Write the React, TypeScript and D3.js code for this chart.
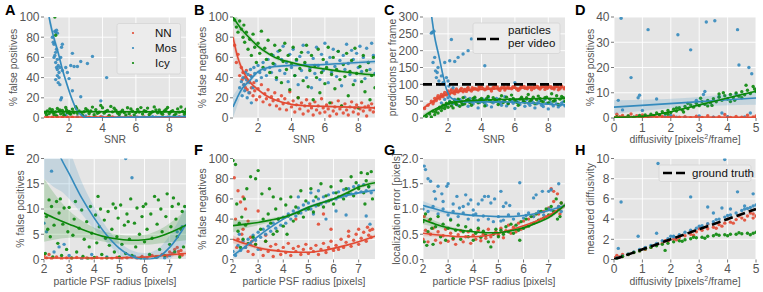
import React from "react";
import * as d3 from "d3";

const RED = "#e24a33";
const BLUE = "#348abd";
const GREEN = "#0a870a";
const FONT = "'Liberation Sans', Arial, sans-serif";

// ---- data ----
// points are flat [x, y, x, y, ...]; fits are rows of [x, y, lo, hi]

const SNR_TICKS = [2, 4, 6, 8];
const PCT_TICKS = [0, 20, 40, 60, 80, 100];
const PRED_TICKS = [0, 50, 100, 150, 200, 250, 300];
const DIFF_TICKS = [0, 1, 2, 3, 4, 5];
const FP_D_TICKS = [0, 10, 20, 30, 40];
const PSF_TICKS = [2, 3, 4, 5, 6, 7];
const FP_E_TICKS = [0, 5, 10, 15, 20];
const LOC_TICKS = [0, 0.5, 1, 1.5, 2];
const MD_TICKS = [0, 2, 4, 6, 8, 10];

const PARTICLES_PER_VIDEO = 100;
const GROUND_TRUTH = [[0, 0], [5, 5]];
const METHODS = ["NN", "Mos", "Icy"];

// A: false positives vs SNR
const A_NN = [0.7,1, 1.0,0.8, 1.3,1.2, 1.6,0.9, 1.9,1.1, 2.2,0.7, 2.5,1.0, 2.9,1.3, 3.2,0.8, 3.6,1.0, 3.9,1.2, 4.3,0.9, 4.6,1.1, 5.0,0.8, 5.4,1.0, 5.7,1.2, 6.1,0.9, 6.5,1.0, 6.8,1.3, 7.2,0.8, 7.6,1.1, 7.9,0.9, 8.3,1.0, 8.6,1.2, 8.9,0.8];
const A_MOS = [1.05,75, 1.1,73, 1.15,86, 1.2,85, 1.25,87, 1.3,84, 1.1,60, 1.2,55, 1.25,50, 1.3,48, 1.35,52, 1.4,45, 1.3,42, 1.2,38, 1.35,35, 1.45,50, 1.5,60, 1.6,73, 1.55,70, 1.2,65, 1.3,58, 1.4,40, 1.5,18, 1.55,20, 1.45,33, 1.6,47, 1.0,80, 1.15,62, 1.25,68, 1.8,50, 2.0,39, 2.2,27, 2.1,52, 2.3,51, 2.2,64, 2.5,51, 2.7,56, 2.7,21, 3.1,54, 3.4,61, 3.9,17, 4.25,40, 1.9,45, 2.5,1, 3,2, 3.5,0.5, 4,1, 4.5,0.3, 5,1.5, 5.5,0.5, 6,1, 6.5,0.4, 7,1.2, 7.5,0.6, 8,1, 8.5,0.5, 9,0.8, 1.8,3, 2,5];
const A_ICY = [0.6,5.2, 0.7,7.1, 0.8,4.3, 0.9,6.0, 1.0,8.2, 1.1,3.5, 1.2,5.9, 1.3,9.4, 1.4,6.8, 1.5,4.1, 1.6,7.5, 1.7,2.8, 1.8,10.5, 1.9,5.3, 2.0,6.6, 2.1,3.9, 2.2,8.8, 2.3,5.1, 2.4,11.2, 2.5,4.6, 2.6,7.0, 2.8,2.9, 2.9,6.2, 3.0,9.1, 3.2,4.4, 3.3,6.9, 3.5,3.2, 3.6,8.3, 3.8,5.7, 3.9,12.5, 4.0,10.1, 4.1,4.8, 4.3,7.4, 4.4,2.6, 4.6,6.1, 4.7,9.6, 4.9,5.0, 5.0,3.7, 5.2,7.8, 5.3,5.5, 5.5,10.2, 5.6,4.2, 5.8,6.7, 5.9,3.1, 6.1,8.5, 6.2,5.9, 6.4,4.0, 6.5,7.2, 6.7,9.8, 6.8,3.4, 7.0,6.3, 7.1,11.0, 7.3,5.2, 7.4,8.0, 7.6,3.8, 7.7,6.9, 7.9,10.4, 8.0,4.5, 8.2,7.3, 8.3,2.7, 8.5,9.0, 8.6,5.8, 8.8,6.4, 8.9,3.6, 9.0,8.7,
  0.65,3.0, 0.85,9.0, 1.05,5.5, 1.25,2.2, 1.45,8.0, 1.65,5.0, 1.85,7.9, 2.05,4.2, 2.25,6.0, 2.45,9.5, 2.75,5.6, 3.1,7.6, 3.4,10.8, 3.7,4.7, 4.2,6.4, 4.5,11.5, 4.8,7.7, 5.1,6.0, 5.4,2.9, 5.7,8.9, 6.0,5.4, 6.3,10.3, 6.6,6.5, 6.9,4.9, 7.2,7.9, 7.5,5.0, 7.8,8.4, 8.1,6.2, 8.4,4.1, 8.7,10.9, 8.95,5.7, 1.2,82, 1.15,100];
const A_NN_FIT = [[0.5,1,0.6,1.4],[9,0.9,0.6,1.2]];
const A_MOS_FIT = [[0.8,100,94,106],[1.0,85,80,90],[1.36,64,60,68],[1.6,48,45,51],[1.86,34,31,37],[2.1,22,19.5,24.5],[2.46,8,6,10],[2.8,2,0.5,3.5],[3.06,0.3,-1,1.5],[4,0.3,-0.7,1.3],[5,0.6,-0.4,1.6],[6,0.9,0,1.8],[7,1.1,0.1,2.1],[9,1.4,-0.2,3]];
const A_ICY_FIT = [[0.5,6.3,5.5,7.1],[9,6.1,5.5,6.7]];

// B: false negatives vs SNR
const B_NN = [0.6,72, 0.7,55, 0.8,63, 0.9,42, 1.0,50, 1.05,38, 1.1,45, 1.15,33, 1.2,40, 1.25,30, 1.3,47, 1.35,28, 1.4,36, 1.5,25, 1.55,42, 1.6,30, 1.7,22, 1.75,35, 1.8,27, 1.9,18, 2.0,29, 2.1,21, 2.2,33, 2.3,16, 2.4,24, 2.5,19, 2.6,28, 2.7,13, 2.8,21, 2.9,17, 3.0,25, 3.1,12, 3.2,18, 3.3,9, 3.4,22, 3.5,14, 3.6,19, 3.7,8, 3.8,15, 3.9,26, 4.0,11, 4.1,17, 4.2,6, 4.3,13, 4.4,20, 4.5,9, 4.6,15, 4.7,4, 4.8,12, 4.9,18, 5.0,7, 5.1,14, 5.2,10, 5.3,3, 5.4,16, 5.5,8, 5.6,12, 5.7,5, 5.8,19, 5.9,10, 6.0,6, 6.1,13, 6.2,9, 6.3,2, 6.4,15, 6.5,7, 6.6,11, 6.7,4, 6.8,17, 6.9,9, 7.0,12, 7.1,5, 7.2,14, 7.3,8, 7.4,3, 7.5,11, 7.6,16, 7.7,6, 7.8,10, 7.9,13, 8.0,4, 8.1,9, 8.2,15, 8.3,7, 8.4,11, 8.5,2, 8.6,12, 8.7,8, 8.8,14, 8.9,6, 9.0,10];
const B_MOS = [0.9,30, 1.0,36, 1.05,22, 1.1,40, 1.15,33, 1.2,27, 1.25,45, 1.3,38, 1.35,20, 1.4,43, 1.5,35, 1.55,48, 1.6,41, 1.7,30, 1.75,50, 1.8,44, 1.9,37, 2.0,52, 2.1,45, 2.2,40, 2.3,55, 2.4,48, 2.5,42, 2.6,58, 2.7,50, 2.8,45, 2.9,62, 3.0,53, 3.1,38, 3.2,66, 3.3,47, 3.4,58, 3.5,71, 3.6,44, 3.7,55, 3.8,36, 3.9,63, 4.0,50, 4.1,68, 4.2,42, 4.3,57, 4.4,33, 4.5,61, 4.6,47, 4.7,72, 4.8,53, 4.9,40, 5.0,65, 5.1,49, 5.2,30, 5.3,59, 5.4,44, 5.5,70, 5.6,52, 5.7,38, 5.8,63, 5.9,47, 6.0,74, 6.1,55, 6.2,35, 6.3,60, 6.4,45, 6.5,68, 6.6,51, 6.7,41, 6.8,66, 6.9,57, 7.0,32, 7.1,62, 7.2,48, 7.3,73, 7.4,54, 7.5,43, 7.6,67, 7.7,58, 7.8,37, 7.9,64, 8.0,50, 8.1,71, 8.2,46, 8.3,60, 8.4,39, 8.5,69, 8.6,55, 8.7,48, 8.8,74, 8.9,62, 9.0,44, 1.6,15, 1.45,25];
const B_ICY = [0.6,97, 0.7,90, 0.8,85, 0.9,96, 1.0,88, 1.1,80, 1.15,92, 1.2,75, 1.3,85, 1.4,68, 1.5,78, 1.6,62, 1.7,83, 1.8,70, 1.9,55, 2.0,74, 2.1,64, 2.2,86, 2.3,50, 2.4,69, 2.5,58, 2.6,77, 2.7,45, 2.8,63, 2.9,54, 3.0,72, 3.1,40, 3.2,60, 3.3,67, 3.4,35, 3.5,56, 3.6,74, 3.7,48, 3.8,62, 3.9,28, 4.0,53, 4.1,70, 4.2,42, 4.3,58, 4.4,20, 4.5,49, 4.6,65, 4.7,37, 4.8,55, 4.9,72, 5.0,31, 5.1,47, 5.2,62, 5.3,18, 5.4,52, 5.5,40, 5.6,68, 5.7,25, 5.8,45, 5.9,58, 6.0,34, 6.1,50, 6.2,70, 6.3,15, 6.4,43, 6.5,60, 6.6,29, 6.7,48, 6.8,66, 6.9,38, 7.0,12, 7.1,53, 7.2,41, 7.3,64, 7.4,22, 7.5,46, 7.6,57, 7.7,33, 7.8,69, 7.9,44, 8.0,10, 8.1,51, 8.2,36, 8.3,62, 8.4,26, 8.5,47, 8.6,55, 8.7,18, 8.8,42, 8.9,60, 9.0,30];
const B_NN_FIT = [[0.5,80,70,90],[0.75,62,56,68],[1,50,46,54],[1.25,42,39,45],[1.5,36,34,38],[2,28,26.5,29.5],[2.5,22,20.8,23.2],[3,18,17,19],[4,13.5,12.7,14.3],[5,12,11.2,12.8],[6,11.5,10.7,12.3],[7,11,10.2,11.8],[8,10.5,9.5,11.5],[9,10,8.8,11.2]];
const B_MOS_FIT = [[0.5,11,0,22],[0.75,20,12,28],[1,28,23,33],[1.25,33,29.5,36.5],[1.5,37,34.5,39.5],[2,46,44,48],[2.5,49.5,47.8,51.2],[3,51,49.5,52.5],[4,52,50.5,53.5],[5,52.5,51,54],[6,53,51.5,54.5],[7,54,52.5,55.5],[8,55,53,57],[9,56,53.5,58.5]];
const B_ICY_FIT = [[0.5,100,92,108],[1,88,84,92],[1.5,79,76,82],[2,71,68.5,73.5],[2.5,65,63,67],[3,60,58.2,61.8],[4,55,53.5,56.5],[5,51,49.5,52.5],[6,48.5,47,50],[7,46,44.5,47.5],[8,44,42,46],[9,42.5,40,45]];

// C: predictions per frame vs SNR
const C_NN = [0.6,28, 0.8,38, 1.0,50, 1.1,42, 1.2,58, 1.3,52, 1.4,66, 1.5,57, 1.6,70, 1.7,63, 1.8,76, 1.9,68, 2.0,80, 2.1,71, 2.2,84, 2.3,75, 2.4,72, 2.5,86, 2.6,77, 2.7,82, 2.8,88, 2.9,78, 3.0,85, 3.2,91, 3.4,80, 3.6,88, 3.8,83, 4.0,93, 4.2,84, 4.4,89, 4.6,80, 4.8,94, 5.0,86, 5.2,90, 5.4,83, 5.6,95, 5.8,87, 6.0,91, 6.2,82, 6.4,96, 6.6,88, 6.8,92, 7.0,84, 7.2,97, 7.4,89, 7.6,93, 7.8,85, 8.0,96, 8.2,88, 8.4,92, 8.6,84, 8.8,95, 9.0,90, 2.45,79, 3.1,79, 3.5,86, 3.9,90, 4.3,87, 4.7,91, 5.1,82, 5.5,89, 5.9,93, 6.3,86, 6.7,89, 7.1,91, 7.5,86, 7.9,92, 8.3,89, 8.7,87,
  1.15,48, 1.35,60, 1.55,64, 1.75,70, 1.95,74, 2.15,78, 2.35,81, 2.55,80, 2.75,85, 2.95,83, 3.15,87, 3.3,84, 3.45,90, 3.7,86, 3.85,92, 4.1,88, 4.35,92, 4.55,86, 4.75,88, 4.95,92, 5.15,88, 5.35,93, 5.65,88, 5.85,90, 6.1,86, 6.35,91, 6.55,94, 6.75,87, 6.95,92, 7.15,88, 7.35,94, 7.55,90, 7.75,94, 7.95,88, 8.15,93, 8.35,86, 8.55,95, 8.75,91, 8.95,87];
const C_MOS = [1.0,252, 1.05,255, 1.15,258, 1.1,165, 1.2,180, 1.25,140, 1.3,120, 1.35,135, 1.4,150, 1.45,110, 1.5,100, 1.6,125, 1.7,105, 1.8,165, 1.9,120, 2.0,110, 2.05,95, 2.1,170, 2.2,233, 2.4,168, 2.6,180, 2.9,190, 3.2,200, 3.4,235, 4.2,155, 6.0,105, 2.3,90, 2.0,60, 2.2,45, 2.4,55, 2.6,38, 2.8,50, 3.0,62, 3.2,35, 3.4,48, 3.6,57, 3.8,30, 4.0,52, 4.2,44, 4.4,60, 4.6,33, 4.8,49, 5.0,55, 5.2,38, 5.4,63, 5.6,42, 5.8,50, 6.0,28, 6.2,47, 6.4,58, 6.6,35, 6.8,44, 7.0,52, 7.2,30, 7.4,46, 7.6,38, 7.8,55, 8.0,27, 8.2,42, 8.4,50, 8.6,33, 8.8,45, 9.0,36, 1.6,45, 1.8,55, 1.9,40,
  2.1,50, 2.3,42, 2.5,48, 2.7,55, 2.9,40, 3.1,50, 3.3,58, 3.5,42, 3.7,50, 3.9,46, 4.1,56, 4.3,38, 4.5,50, 4.7,45, 4.9,58, 5.1,44, 5.3,50, 5.5,36, 5.7,54, 5.9,44, 6.1,52, 6.3,40, 6.5,48, 6.7,55, 6.9,38, 7.1,46, 7.3,42, 7.5,52, 7.7,34, 7.9,44, 8.1,48, 8.3,36, 8.5,42, 8.7,38, 8.9,48];
const C_ICY = [0.7,5, 0.9,12, 1.0,3, 1.1,20, 1.2,10, 1.3,25, 1.4,15, 1.5,32, 1.6,22, 1.7,38, 1.8,28, 1.9,44, 2.0,32, 2.1,48, 2.2,36, 2.3,30, 2.4,52, 2.5,40, 2.6,56, 2.7,35, 2.8,47, 2.9,60, 3.0,42, 3.2,55, 3.4,38, 3.6,62, 3.8,45, 4.0,58, 4.2,36, 4.4,64, 4.6,48, 4.8,55, 5.0,40, 5.2,66, 5.4,50, 5.6,43, 5.8,68, 6.0,52, 6.2,38, 6.4,62, 6.6,47, 6.8,70, 7.0,55, 7.2,42, 7.4,65, 7.6,50, 7.8,60, 8.0,45, 8.2,72, 8.4,53, 8.6,40, 8.8,64, 9.0,50,
  1.25,18, 1.45,28, 1.65,30, 1.85,36, 2.05,42, 2.25,46, 2.45,44, 2.65,50, 2.85,40, 3.1,52, 3.3,46, 3.5,58, 3.7,50, 3.9,54, 4.1,48, 4.3,57, 4.5,52, 4.7,60, 4.9,50, 5.1,56, 5.3,46, 5.5,62, 5.7,54, 5.9,58, 6.1,47, 6.3,56, 6.5,52, 6.7,60, 6.9,50, 7.1,62, 7.3,54, 7.5,58, 7.7,48, 7.9,62, 8.1,56, 8.3,50, 8.5,66, 8.7,56, 8.9,60];
const C_NN_FIT = [[0.5,28,22,34],[1,46,42,50],[1.5,61,58.5,63.5],[2,71,69,73],[2.5,77,75.5,78.5],[3,81,79.8,82.2],[4,85,84,86],[5,87,86,88],[6,88.5,87.5,89.5],[7,89.5,88.5,90.5],[8,90.5,89.3,91.7],[9,91,89.5,92.5]];
const C_MOS_FIT = [[1.02,300,280,320],[1.2,240,225,255],[1.42,191,180,202],[1.72,122,114,130],[1.92,83,77,89],[2.22,58,54,62],[2.6,51,48,54],[3,48,45.5,50.5],[4,48,46,50],[5,48,46,50],[6,47,45,49],[7,44,42,46],[8,41,38.5,43.5],[9,39,36,42]];
const C_ICY_FIT = [[0.5,4,-4,12],[1,20,15,25],[1.5,33,30,36],[2,43,41,45],[2.5,48,46.5,49.5],[3,51,49.7,52.3],[4,53,51.8,54.2],[5,55,53.8,56.2],[6,56,54.8,57.2],[7,57,55.7,58.3],[8,58,56.5,59.5],[9,58,56,60]];

// D: false positives vs diffusivity
const D_NN = [0.1,1.5, 0.2,0.5, 0.3,1.0, 0.4,0.2, 0.5,0.8, 0.6,1.6, 0.7,0.3, 0.8,0.9, 0.9,0.1, 1.0,1.2, 1.1,0.4, 1.2,0.7, 1.3,0.2, 1.4,1.0, 1.5,0.3, 1.7,0.6, 1.9,0.2, 2.1,0.8, 2.3,0.3, 2.5,0.5, 2.7,0.1, 2.9,0.7, 3.1,0.2, 3.3,0.9, 3.5,0.3, 3.7,0.5, 3.9,1.4, 4.1,0.2, 4.3,0.6, 4.5,0.3, 4.7,1.1, 4.9,0.4, 5.0,0.8, 4.0,0.4, 2.0,0.5, 1.6,1.3];
const D_MOS = [0.25,39.5, 1.2,35, 2.25,33, 2.7,27, 3.25,38, 3.55,38.5, 4.35,35, 4.4,21, 4.75,20, 4.85,17.5, 0.6,16, 0.9,9, 0.85,8, 0.15,7, 1.5,7.5, 3.2,10.5, 3.15,9.3, 0.3,3.2, 1.0,3, 4.3,9.5, 3.7,8.5, 2.9,7, 4.8,2, 3.8,2, 2.0,1, 0.5,0.5, 1.3,0.3, 2.5,0.2, 3.0,0.8, 3.5,0.3, 4.0,0.5, 4.6,0.4, 1.8,0.6, 2.2,0.3];
const D_ICY = [0.1,0.5, 0.3,0.2, 0.5,0.8, 0.7,0.3, 0.9,1.0, 1.0,0.4, 1.1,1.2, 1.2,0.6, 1.3,1.5, 1.4,0.9, 1.5,2.0, 1.6,1.3, 1.7,2.5, 1.8,1.8, 1.9,3.0, 2.0,2.2, 2.1,3.5, 2.2,2.8, 2.3,4.1, 2.4,3.2, 2.5,4.6, 2.6,3.7, 2.7,5.2, 2.8,4.3, 2.9,5.8, 3.0,4.9, 3.1,6.5, 3.2,5.4, 3.3,7.0, 3.4,6.0, 3.5,7.6, 3.6,6.4, 3.7,8.2, 3.8,7.0, 3.9,8.8, 4.0,7.5, 4.1,9.3, 4.2,8.1, 4.3,9.9, 4.4,8.6, 4.5,10.4, 4.6,9.2, 4.7,11.0, 4.8,9.7, 4.9,12.5, 5.0,10.5, 2.2,4.0, 2.6,5.8, 3.05,7.8, 3.45,5.0, 3.85,10.0, 4.25,7.0, 4.65,13.0, 4.95,11.5, 1.9,1.5, 2.45,2.4, 3.3,4.8, 4.1,6.5, 4.5,8.0, 3.7,9.5];
const D_NN_FIT = [[0,0.5,0.2,0.8],[5,0.3,0,0.6]];
const D_MOS_FIT = [[0,4.3,1.6,7.0],[2.5,6.1,4.3,7.9],[5,7.9,5.2,10.6]];
const D_ICY_FIT = [[0,0.3,-0.2,0.8],[1,0.6,0.3,0.9],[2,2.5,2.2,2.8],[3,5.2,4.9,5.5],[4,7.9,7.6,8.2],[5,10.6,10.1,11.1]];

// E: false positives vs PSF radius
const E_NN = [2.0,0.8, 2.1,0.3, 2.2,1.0, 2.3,0.2, 2.5,0.5, 2.7,0.1, 2.9,0.3, 3.1,0.2, 3.3,0.4, 3.5,0.1, 3.7,0.3, 3.9,0.2, 4.1,0.4, 4.3,0.1, 4.5,0.3, 4.7,0.2, 4.9,0.4, 5.1,0.1, 5.3,0.3, 5.5,0.5, 5.7,0.2, 5.9,0.6, 6.1,0.3, 6.3,0.8, 6.5,0.5, 6.7,1.0, 6.9,0.7, 7.0,1.5, 7.1,1.2, 7.2,2.0, 7.3,2.4, 7.35,1.6, 7.4,1.0, 7.45,1.8, 7.5,0.9];
const E_MOS = [2.3,17.5, 5.25,20, 5.5,16.2, 2.0,7.2, 2.1,5.5, 2.6,2.5, 2.4,1.5, 3.0,0.8, 4.5,0.5, 5.0,0.3, 6.0,0.2, 6.5,0.5, 7.0,0.8, 7.5,6.5, 7.3,5.5, 3.9,1, 2.8,3, 3.5,0.2, 5.6,0.6, 6.8,0.3];
const E_ICY = [2.05,1.2, 2.1,8.5, 2.2,11.8, 2.25,4.5, 2.3,10.5, 2.35,0.5, 2.4,6.8, 2.5,11.5, 2.55,3.2, 2.6,9.2, 2.7,0.8, 2.75,7.0, 2.8,10.2, 2.9,2.0, 2.95,5.5, 3.0,10.3, 3.1,0.3, 3.15,4.8, 3.2,8.0, 3.3,1.5, 3.4,6.2, 3.5,9.8, 3.55,0.6, 3.6,4.0, 3.7,7.5, 3.8,2.5, 3.85,10.5, 3.9,5.2, 4.0,0.4, 4.05,8.8, 4.1,3.3, 4.2,6.5, 4.25,10.0, 4.3,1.0, 4.4,7.8, 4.45,4.2, 4.5,0.3, 4.55,9.5, 4.6,2.8, 4.7,6.0, 4.75,11.0, 4.8,1.5, 4.9,4.5, 4.95,8.2, 5.0,0.5, 5.05,10.8, 5.1,3.0, 5.2,6.8, 5.25,1.2, 5.3,9.0, 5.4,4.0, 5.45,12.0, 5.5,0.8, 5.6,7.2, 5.65,2.5, 5.7,10.2, 5.8,5.0, 5.85,0.3, 5.9,8.5, 6.0,3.5, 6.05,11.0, 6.1,6.0, 6.2,1.0, 6.25,9.0, 6.3,4.2, 6.4,12.5, 6.45,0.5, 6.5,7.0, 6.6,2.0, 6.65,10.0, 6.7,5.5, 6.8,0.8, 6.85,8.5, 6.9,13.0, 7.0,3.0, 7.05,6.5, 7.1,10.5, 7.2,1.5, 7.25,8.0, 7.3,4.5, 7.35,11.0, 7.4,0.5, 7.45,6.0, 7.5,9.5, 7.55,2.5, 7.6,10.5, 2.15,6.0, 2.65,12.0, 3.25,11.5, 3.75,0.2, 4.15,12.5, 4.85,10.2, 5.35,7.5, 5.95,10.5, 6.55,11.8, 7.15,12.2];
const E_NN_FIT = [[2,0.3,0,0.6],[4,0.3,0.1,0.5],[5,0.35,0.15,0.55],[6,0.5,0.25,0.75],[6.5,0.7,0.4,1.0],[7,0.95,0.6,1.3],[7.65,1.2,0.7,1.7]];
const E_MOS_FIT = [[2,29,16,42],[2.5,22,14,30],[2.68,20,13.5,26.5],[3,17,12,22],[3.5,12.2,9,15.4],[4,8.2,6,10.4],[4.5,4.8,3.3,6.3],[5,2.2,1,3.4],[5.5,0.6,-0.6,1.8],[6,0,-1.3,1.3],[6.5,0.4,-1.2,2],[7,2.4,0,4.8],[7.5,5.8,2.5,9.1],[7.65,7,3.2,10.8]];
const E_ICY_FIT = [[2,9.2,3.5,16],[2.5,8,4,12.5],[3,7,4.3,9.7],[3.5,6,4.3,7.7],[4,5.1,3.9,6.3],[4.5,4.4,3.4,5.4],[5,4,3.1,4.9],[5.5,3.8,2.9,4.7],[6,3.9,2.9,4.9],[6.5,4.4,3.1,5.7],[7,5.3,3.4,7.2],[7.65,6.8,3.8,9.8]];

// F: false negatives vs PSF radius
const F_NN = [2.05,81, 2.1,40, 2.2,68, 2.3,57, 2.4,30, 2.5,12, 2.6,8, 2.7,22, 2.8,5, 2.9,15, 3.0,48, 3.1,10, 3.2,4, 3.3,18, 3.4,8, 3.5,13, 3.6,3, 3.7,15, 3.8,9, 3.9,5, 4.0,12, 4.1,7, 4.2,16, 4.3,4, 4.4,11, 4.5,8, 4.6,13, 4.7,5, 4.8,10, 4.9,15, 5.0,6, 5.1,11, 5.2,8, 5.3,14, 5.4,5, 5.5,10, 5.6,16, 5.7,7, 5.8,12, 5.9,18, 6.0,9, 6.1,14, 6.2,10, 6.3,20, 6.4,12, 6.5,17, 6.6,23, 6.7,13, 6.8,19, 6.9,25, 7.0,15, 7.1,21, 7.2,27, 7.3,18, 7.35,32, 7.4,24, 7.45,29, 7.5,22, 7.55,30, 5.6,45, 5.4,35, 4.5,40, 2.4,62, 2.6,38, 2.2,20, 2.15,12, 2.35,25, 2.75,18, 5.9,30, 6.6,28, 7.0,30, 3.3,24, 2.5,50];
const F_MOS = [2.0,8, 2.1,4, 2.2,14, 2.3,9, 2.4,18, 2.5,12, 2.6,20, 2.7,15, 2.8,24, 2.9,19, 3.0,27, 3.1,22, 3.2,30, 3.3,25, 3.4,33, 3.5,28, 3.6,36, 3.7,31, 3.8,40, 3.9,34, 4.0,42, 4.1,36, 4.2,45, 4.3,40, 4.4,48, 4.5,43, 4.6,51, 4.7,46, 4.8,54, 4.9,49, 5.0,56, 5.1,50, 5.2,58, 5.3,53, 5.4,60, 5.5,55, 5.6,62, 5.7,57, 5.8,64, 5.9,59, 6.0,66, 6.1,60, 6.2,67, 6.3,62, 6.4,69, 6.5,63, 6.6,70, 6.7,65, 6.8,72, 6.9,66, 7.0,73, 7.1,67, 7.2,74, 7.3,68, 7.4,72, 7.5,66, 5.7,40, 6.1,48, 5.2,45, 6.5,44, 7.3,43, 7.45,35, 4.6,62, 5.1,66, 5.4,68, 3.0,10, 2.25,25];
const F_ICY = [2.0,98, 2.1,94, 2.2,28, 2.3,12, 2.4,20, 2.5,34, 2.6,16, 2.7,82, 2.8,22, 2.9,80, 3.0,88, 3.1,30, 3.2,40, 3.3,18, 3.4,45, 3.5,36, 3.6,25, 3.7,50, 3.8,40, 3.9,60, 4.0,33, 4.1,54, 4.2,43, 4.3,62, 4.4,38, 4.5,52, 4.6,46, 4.7,68, 4.8,42, 4.9,58, 5.0,50, 5.1,70, 5.2,47, 5.3,62, 5.4,54, 5.5,75, 5.6,52, 5.7,63, 5.8,58, 5.9,72, 6.0,55, 6.1,66, 6.2,62, 6.3,78, 6.4,60, 6.5,70, 6.6,65, 6.7,82, 6.8,63, 6.9,76, 7.0,70, 7.1,86, 7.2,66, 7.3,78, 7.4,72, 7.5,87, 7.55,60, 2.15,55, 2.35,42, 2.55,70, 2.45,60, 3.15,65, 3.45,70, 3.75,28, 4.15,25, 2.25,36, 3.6,62, 2.9,15, 7.35,85, 7.25,55];
const F_NN_FIT = [[2,20,16,24],[2.5,15.5,13,18],[3,11.7,10,13.4],[3.5,9.3,8,10.6],[4,8,7,9],[4.5,7.2,6.3,8.1],[5,7.2,6.3,8.1],[5.5,8.5,7.6,9.4],[6,11,10,12],[6.5,14,13,15],[7,17.5,16.2,18.8],[7.65,23,21,25]];
const F_MOS_FIT = [[2,4,1,7],[2.5,13,11,15],[3,23,21.5,24.5],[3.5,32,30.8,33.2],[4,40,39,41],[4.5,46.5,45.5,47.5],[5,51.7,50.7,52.7],[5.5,56,55,57],[6,60,59,61],[6.5,63.5,62.4,64.6],[7,66,64.8,67.2],[7.65,68.5,66.5,70.5]];
const F_ICY_FIT = [[2,33.5,27,40],[2.5,35,31,39],[3,36.7,34,39.4],[3.5,39,37,41],[4,41.7,40,43.4],[4.5,46,44.5,47.5],[5,51.7,50.2,53.2],[5.5,56,54.5,57.5],[6,60,58.5,61.5],[6.5,65.5,64,67],[7,71.7,70,73.4],[7.65,76,73.5,78.5]];

// G: localization error vs PSF radius
const G_NN = [2.0,0.40, 2.1,0.58, 2.2,0.35, 2.3,0.50, 2.4,0.62, 2.5,0.38, 2.6,0.55, 2.7,0.33, 2.8,0.47, 2.9,0.60, 3.0,0.36, 3.1,0.52, 3.2,0.40, 3.3,0.30, 3.4,0.49, 3.5,0.57, 3.6,0.35, 3.7,0.45, 3.8,0.55, 3.9,0.32, 4.0,0.48, 4.1,0.40, 4.2,0.58, 4.3,0.37, 4.4,0.50, 4.5,0.42, 4.6,0.60, 4.7,0.45, 4.8,0.35, 4.9,0.55, 5.0,0.48, 5.1,0.62, 5.2,0.43, 5.3,0.57, 5.4,0.68, 5.5,0.52, 5.6,0.64, 5.7,0.55, 5.8,0.72, 5.9,0.60, 6.0,0.76, 6.1,0.65, 6.2,0.80, 6.3,0.70, 6.4,0.85, 6.5,0.74, 6.6,0.90, 6.7,0.80, 6.8,0.95, 6.9,0.85, 7.0,1.02, 7.1,0.88, 7.2,1.15, 7.3,0.95, 7.35,1.30, 7.4,1.05, 7.45,0.90, 7.5,1.12, 7.1,1.40, 7.2,1.35, 2.05,0.85, 2.25,0.78];
const G_MOS = [2.05,1.85, 2.1,1.78, 2.2,1.60, 2.3,1.55, 2.45,1.35, 2.5,1.20, 2.6,1.45, 2.75,1.30, 2.8,1.15, 2.95,1.45, 3.0,1.50, 3.2,1.10, 3.35,1.25, 3.45,1.02, 3.6,1.05, 3.7,1.28, 3.8,1.10, 3.9,1.18, 4.0,0.98, 4.2,1.10, 4.35,1.18, 4.45,1.25, 4.6,1.25, 4.7,1.12, 4.85,1.20, 5.1,1.35, 5.2,1.05, 5.3,1.12, 5.45,1.07, 5.85,1.52, 6.4,1.22, 6.5,1.28, 6.75,1.35, 7.0,1.35, 7.1,1.38, 7.4,1.50, 2.0,1.00, 2.2,0.95, 2.4,1.05, 2.6,0.90, 2.8,1.00, 3.0,0.88, 3.2,0.95, 3.4,0.85, 3.6,0.92, 3.8,0.80, 4.0,0.88, 4.2,0.78, 4.4,0.86, 4.6,0.80, 4.8,0.75, 5.0,0.85, 5.2,0.78, 5.4,0.88, 5.6,0.80, 5.8,0.90, 6.0,0.82, 6.2,0.92, 6.4,0.85, 6.6,0.95, 6.8,0.88, 7.0,1.00, 7.2,0.92, 7.4,1.05, 7.5,0.95, 3.1,0.80, 4.1,0.90, 5.1,0.76, 6.1,0.87, 7.1,0.98];
const G_ICY = [2.0,0.75, 2.05,0.35, 2.1,0.90, 2.2,0.55, 2.3,0.80, 2.4,0.30, 2.5,0.65, 2.6,0.85, 2.7,0.45, 2.8,0.70, 2.9,0.38, 3.0,0.62, 3.1,0.78, 3.2,0.42, 3.3,0.58, 3.4,0.68, 3.5,0.40, 3.6,0.55, 3.7,0.65, 3.8,0.45, 3.9,0.58, 4.0,0.38, 4.1,0.52, 4.2,0.62, 4.3,0.44, 4.4,0.56, 4.5,0.48, 4.6,0.35, 4.7,0.25, 4.8,0.50, 4.9,0.60, 5.0,0.45, 5.1,0.58, 5.2,0.50, 5.3,0.65, 5.4,0.55, 5.5,0.70, 5.6,0.52, 5.7,0.68, 5.8,0.58, 5.85,0.38, 5.9,0.75, 6.0,0.62, 6.1,0.80, 6.2,0.66, 6.3,0.85, 6.4,0.72, 6.5,0.90, 6.6,0.78, 6.7,0.95, 6.8,0.82, 6.9,1.00, 7.0,0.88, 7.1,1.05, 7.2,0.95, 7.3,1.20, 7.4,1.00, 7.5,1.12, 7.45,0.85, 7.35,0.80, 2.15,0.28, 2.35,0.62];
const G_NN_FIT = [[2,0.52,0.46,0.58],[2.5,0.49,0.45,0.53],[3,0.47,0.44,0.5],[3.5,0.45,0.43,0.47],[4,0.45,0.43,0.47],[4.5,0.47,0.45,0.49],[5,0.52,0.5,0.54],[5.5,0.59,0.57,0.61],[6,0.67,0.65,0.69],[6.5,0.76,0.74,0.78],[7,0.87,0.84,0.9],[7.65,1.07,1.02,1.12]];
const G_MOS_FIT = [[2,1.07,0.98,1.16],[2.5,1.0,0.94,1.06],[3,0.93,0.89,0.97],[3.5,0.9,0.87,0.93],[4,0.87,0.85,0.89],[4.5,0.86,0.84,0.88],[5,0.85,0.83,0.87],[5.5,0.85,0.83,0.87],[6,0.87,0.85,0.89],[6.5,0.91,0.89,0.93],[7,0.97,0.94,1.0],[7.65,1.07,1.02,1.12]];
const G_ICY_FIT = [[2,0.79,0.7,0.88],[2.5,0.7,0.64,0.76],[3,0.63,0.59,0.67],[3.5,0.58,0.55,0.61],[4,0.55,0.53,0.57],[4.5,0.53,0.51,0.55],[5,0.53,0.51,0.55],[5.5,0.57,0.55,0.59],[6,0.63,0.61,0.65],[6.5,0.72,0.7,0.74],[7,0.83,0.8,0.86],[7.65,1.08,1.03,1.13]];

// H: measured vs true diffusivity
const H_NN = [0.05,0.2, 0.1,0.4, 0.2,0.25, 0.3,0.3, 0.5,0.5, 0.7,0.7, 0.9,0.85, 1.1,1.0, 1.3,1.2, 1.5,1.45, 1.7,1.6, 1.9,1.8, 2.1,2.0, 2.3,2.15, 2.5,2.35, 2.7,2.5, 2.9,2.75, 3.1,2.9, 3.3,3.05, 3.5,3.2, 3.7,3.45, 3.9,3.6, 4.1,3.7, 4.3,3.95, 4.5,4.1, 4.7,4.3, 4.9,4.5, 5.0,4.3, 3.3,3.5, 3.6,3.1, 4.0,4.0, 4.2,3.6, 4.4,4.3, 4.6,3.9, 4.8,4.6, 4.9,4.1, 2.8,2.4, 3.0,3.05, 0.3,0.5, 1.8,1.85, 2.2,1.95, 3.8,3.3];
const H_MOS = [0.1,0.15, 0.3,0.35, 0.5,0.55, 0.7,0.75, 0.9,1.0, 1.1,1.2, 1.3,1.4, 1.5,1.6, 1.7,1.85, 1.9,2.05, 2.1,2.25, 2.3,2.45, 2.5,2.7, 2.7,2.9, 2.9,3.1, 3.1,3.35, 3.3,3.55, 3.5,3.75, 3.7,4.0, 3.9,4.2, 4.1,4.4, 4.3,4.6, 4.5,4.85, 4.7,5.05, 4.9,5.3, 5.0,5.4, 2.0,2.3, 3.0,3.3, 4.0,4.35, 4.6,5.0, 4.8,5.15, 3.6,3.95, 0.25,5.7, 1.55,9.5, 3.9,9.9, 2.7,6.2, 4.35,6.7, 4.9,6.5, 3.3,5.2, 3.8,5.1, 0.85,2.3, 0.15,1.1, 1.5,2.6, 2.1,2.3, 4.1,5.0, 4.6,5.3, 3.5,4.6];
const H_ICY = [0.1,0.1, 0.3,0.3, 0.5,0.5, 0.7,0.7, 0.9,0.85, 1.1,1.05, 1.3,1.2, 1.5,1.35, 1.7,1.5, 1.8,0.9, 1.9,1.6, 2.1,1.75, 2.3,1.85, 2.5,1.95, 2.7,2.05, 2.9,2.15, 3.1,2.2, 3.3,2.3, 3.5,2.35, 3.7,2.4, 3.9,2.45, 4.1,2.5, 4.3,2.5, 4.5,2.55, 4.7,2.6, 4.9,2.6, 5.0,2.7, 4.0,2.35, 4.4,2.65, 4.8,2.45, 3.6,2.5, 3.2,2.1, 2.8,2.2, 2.4,1.8];

// ---- layout ----
const COLS = [44, 233, 423, 614];
const ROWS = [17, 158.5];
const PW = 142;
const PH = 101;
const TICK_FS = 12;
const TITLE_FS = 10.4;

const pairs = (a: number[]) => d3.range(0, a.length - 1, 2).map((i) => [a[i], a[i + 1]]);
const textW = (s: string, fs: number) =>
  d3.sum(s.split(""), (c) => (c === "." ? 0.278 : 0.556)) * fs;

type Series = { color: string; pts: number[]; fit?: number[][] };
type PanelCfg = {
  id: string; col: number; row: number;
  xDomain: number[]; yDomain: number[];
  xTicks: number[]; yTicks: number[]; yFormat?: string;
  xLabel: React.ReactNode; yLabel: string;
  series: Series[]; extra?: "ppv" | "gt";
};

const diffLabel = (
  <>
    diffusivity [pixels<tspan fontSize={7} dy={-4}>2</tspan>
    <tspan dy={4}>/frame]</tspan>
  </>
);

const PANELS: PanelCfg[] = [
  { id: "A", col: 0, row: 0, xDomain: [0.5, 9], yDomain: [0, 100], xTicks: SNR_TICKS, yTicks: PCT_TICKS,
    xLabel: "SNR", yLabel: "% false positives",
    series: [{ color: RED, pts: A_NN, fit: A_NN_FIT }, { color: BLUE, pts: A_MOS, fit: A_MOS_FIT }, { color: GREEN, pts: A_ICY, fit: A_ICY_FIT }] },
  { id: "B", col: 1, row: 0, xDomain: [0.5, 9], yDomain: [0, 100], xTicks: SNR_TICKS, yTicks: PCT_TICKS,
    xLabel: "SNR", yLabel: "% false negatives",
    series: [{ color: RED, pts: B_NN, fit: B_NN_FIT }, { color: BLUE, pts: B_MOS, fit: B_MOS_FIT }, { color: GREEN, pts: B_ICY, fit: B_ICY_FIT }] },
  { id: "C", col: 2, row: 0, xDomain: [0.5, 9], yDomain: [0, 300], xTicks: SNR_TICKS, yTicks: PRED_TICKS,
    xLabel: "SNR", yLabel: "predictions per frame", extra: "ppv",
    series: [{ color: RED, pts: C_NN, fit: C_NN_FIT }, { color: BLUE, pts: C_MOS, fit: C_MOS_FIT }, { color: GREEN, pts: C_ICY, fit: C_ICY_FIT }] },
  { id: "D", col: 3, row: 0, xDomain: [0, 5], yDomain: [0, 40], xTicks: DIFF_TICKS, yTicks: FP_D_TICKS,
    xLabel: diffLabel, yLabel: "% false positives",
    series: [{ color: RED, pts: D_NN, fit: D_NN_FIT }, { color: BLUE, pts: D_MOS, fit: D_MOS_FIT }, { color: GREEN, pts: D_ICY, fit: D_ICY_FIT }] },
  { id: "E", col: 0, row: 1, xDomain: [2, 7.65], yDomain: [0, 20], xTicks: PSF_TICKS, yTicks: FP_E_TICKS,
    xLabel: "particle PSF radius [pixels]", yLabel: "% false positives",
    series: [{ color: RED, pts: E_NN, fit: E_NN_FIT }, { color: BLUE, pts: E_MOS, fit: E_MOS_FIT }, { color: GREEN, pts: E_ICY, fit: E_ICY_FIT }] },
  { id: "F", col: 1, row: 1, xDomain: [2, 7.65], yDomain: [0, 100], xTicks: PSF_TICKS, yTicks: PCT_TICKS,
    xLabel: "particle PSF radius [pixels]", yLabel: "% false negatives",
    series: [{ color: RED, pts: F_NN, fit: F_NN_FIT }, { color: BLUE, pts: F_MOS, fit: F_MOS_FIT }, { color: GREEN, pts: F_ICY, fit: F_ICY_FIT }] },
  { id: "G", col: 2, row: 1, xDomain: [2, 7.65], yDomain: [0, 2], xTicks: PSF_TICKS, yTicks: LOC_TICKS, yFormat: ".1f",
    xLabel: "particle PSF radius [pixels]", yLabel: "localization error [pixels]",
    series: [{ color: RED, pts: G_NN, fit: G_NN_FIT }, { color: BLUE, pts: G_MOS, fit: G_MOS_FIT }, { color: GREEN, pts: G_ICY, fit: G_ICY_FIT }] },
  { id: "H", col: 3, row: 1, xDomain: [0, 5], yDomain: [0, 10], xTicks: DIFF_TICKS, yTicks: MD_TICKS,
    xLabel: diffLabel, yLabel: "measured diffusivity", extra: "gt",
    series: [{ color: RED, pts: H_NN }, { color: BLUE, pts: H_MOS }, { color: GREEN, pts: H_ICY }] },
];

function Panel({ cfg }: { cfg: PanelCfg }) {
  const left = COLS[cfg.col];
  const top = ROWS[cfg.row];
  const bottom = top + PH;
  const x = d3.scaleLinear().domain(cfg.xDomain).range([left, left + PW]);
  const y = d3.scaleLinear().domain(cfg.yDomain).range([bottom, top]);
  const fmt = cfg.yFormat ? d3.format(cfg.yFormat) : (v: number) => String(v);
  const line = d3.line<number[]>().x((d) => x(d[0])).y((d) => y(d[1])).curve(d3.curveMonotoneX);
  const area = d3.area<number[]>().x((d) => x(d[0])).y0((d) => y(d[2])).y1((d) => y(d[3])).curve(d3.curveMonotoneX);
  const maxW = d3.max(cfg.yTicks, (t) => textW(fmt(t), TICK_FS)) || 0;
  const yTitleX = left - maxW - 6.5;
  const clip = `clip-${cfg.id}`;

  return (
    <g>
      <clipPath id={clip}>
        <rect x={left} y={top} width={PW} height={PH} />
      </clipPath>
      <rect x={left} y={top} width={PW} height={PH} fill="#e5e5e5" />
      {cfg.xTicks.map((t) => (
        <line key={"gx" + t} x1={x(t)} x2={x(t)} y1={top} y2={bottom} stroke="#fff" strokeWidth={0.9} />
      ))}
      {cfg.yTicks.map((t) => (
        <line key={"gy" + t} x1={left} x2={left + PW} y1={y(t)} y2={y(t)} stroke="#fff" strokeWidth={0.9} />
      ))}
      <g clipPath={`url(#${clip})`}>
        {cfg.series.map((s, i) =>
          pairs(s.pts).map((p, j) => (
            <circle key={`p${i}-${j}`} cx={x(p[0])} cy={y(p[1])} r={1.7} fill={s.color} fillOpacity={0.9} />
          ))
        )}
        {cfg.series.map((s, i) =>
          s.fit ? <path key={"b" + i} d={area(s.fit) || ""} fill={s.color} fillOpacity={0.18} /> : null
        )}
        {cfg.series.map((s, i) =>
          s.fit ? <path key={"l" + i} d={line(s.fit) || ""} fill="none" stroke={s.color} strokeWidth={1.6} /> : null
        )}
        {cfg.extra === "ppv" && (
          <line x1={left} x2={left + PW} y1={y(PARTICLES_PER_VIDEO)} y2={y(PARTICLES_PER_VIDEO)}
            stroke="#000" strokeWidth={2.6} strokeDasharray="9,4" />
        )}
        {cfg.extra === "gt" && (
          <path d={d3.line()(GROUND_TRUTH.map((d) => [x(d[0]), y(d[1])]) as [number, number][]) || ""}
            stroke="#000" strokeWidth={2.6} strokeDasharray="9,4" fill="none" />
        )}
      </g>
      {cfg.yTicks.map((t) => (
        <g key={"ty" + t}>
          <line x1={left - 3} x2={left} y1={y(t)} y2={y(t)} stroke="#555" strokeWidth={0.8} />
          <text x={left - 4.5} y={y(t)} dy="0.36em" textAnchor="end" fontSize={TICK_FS} fill="#555">{fmt(t)}</text>
        </g>
      ))}
      {cfg.xTicks.map((t) => (
        <g key={"tx" + t}>
          <line x1={x(t)} x2={x(t)} y1={bottom} y2={bottom + 3} stroke="#555" strokeWidth={0.8} />
          <text x={x(t)} y={bottom + 13.8} textAnchor="middle" fontSize={TICK_FS} fill="#555">{t}</text>
        </g>
      ))}
      <text x={left + PW / 2} y={bottom + 25} textAnchor="middle" fontSize={TITLE_FS} fill="#555">{cfg.xLabel}</text>
      <text transform={`translate(${yTitleX},${top + PH / 2}) rotate(-90)`} textAnchor="middle" fontSize={TITLE_FS} fill="#555">
        {cfg.yLabel}
      </text>
      <text x={left - 39} y={cfg.row === 0 ? 15 : 155} fontSize={14.5} fontWeight="bold" fill="#000">{cfg.id}</text>
    </g>
  );
}

export default function App() {
  return (
    <svg width={763} height={292} style={{ position: "absolute", left: 0, top: 0, fontFamily: FONT }}>
      <rect width={763} height={292} fill="#fff" />
      {PANELS.map((p) => <Panel key={p.id} cfg={p} />)}

      {/* legend A */}
      <g>
        <rect x={117} y={23.5} width={63.5} height={50.5} rx={2} fill="#ececec" stroke="#d4d4d4" strokeWidth={0.8} />
        {METHODS.map((m, i) => (
          <g key={m}>
            <circle cx={133} cy={33 + i * 15} r={1.1} fill={[RED, BLUE, GREEN][i]} />
            <text x={155} y={37 + i * 15} fontSize={11.5} fill="#111">{m}</text>
          </g>
        ))}
      </g>

      {/* legend C */}
      <g>
        <rect x={473} y={23} width={87} height={30.5} rx={2} fill="#ececec" stroke="#d4d4d4" strokeWidth={0.8} />
        <line x1={477} x2={499} y1={39} y2={39} stroke="#000" strokeWidth={2.6} strokeDasharray="9,4" />
        <text x={508} y={34} fontSize={11.5} fill="#111">particles</text>
        <text x={508} y={46.5} fontSize={11.5} fill="#111">per video</text>
      </g>

      {/* legend H */}
      <g>
        <rect x={659} y={165} width={92} height={16.5} rx={2} fill="#ececec" stroke="#d4d4d4" strokeWidth={0.8} />
        <line x1={663} x2={685} y1={173} y2={173} stroke="#000" strokeWidth={2.6} strokeDasharray="9,4" />
        <text x={692} y={177} fontSize={11.5} fill="#111">ground truth</text>
      </g>
    </svg>
  );
}
